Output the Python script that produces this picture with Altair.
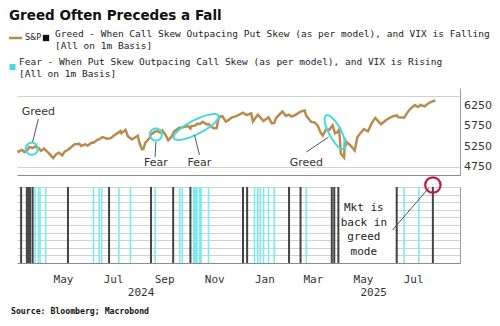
import altair as alt
import pandas as pd
import numpy as np

# ---------------- data ----------------
spx_dates = [
    "2024-03-07", "2024-03-08", "2024-03-12", "2024-03-15", "2024-03-19", "2024-03-21", "2024-03-25",
    "2024-03-28", "2024-04-02", "2024-04-04", "2024-04-08", "2024-04-10", "2024-04-12", "2024-04-15",
    "2024-04-19", "2024-04-23", "2024-04-26", "2024-04-30", "2024-05-03", "2024-05-08", "2024-05-10",
    "2024-05-15", "2024-05-21", "2024-05-23", "2024-05-28", "2024-05-31", "2024-06-05", "2024-06-07",
    "2024-06-12", "2024-06-14", "2024-06-18", "2024-06-21", "2024-06-24", "2024-06-28", "2024-07-03",
    "2024-07-05", "2024-07-10", "2024-07-11", "2024-07-16", "2024-07-19", "2024-07-24", "2024-07-26",
    "2024-07-31", "2024-08-02", "2024-08-05", "2024-08-07", "2024-08-09", "2024-08-14", "2024-08-16",
    "2024-08-21", "2024-08-23", "2024-08-28", "2024-08-30", "2024-09-03", "2024-09-06", "2024-09-10",
    "2024-09-13", "2024-09-19", "2024-09-24", "2024-09-30", "2024-10-03", "2024-10-04", "2024-10-10",
    "2024-10-11", "2024-10-15", "2024-10-18", "2024-10-23", "2024-10-25", "2024-10-31", "2024-11-04",
    "2024-11-06", "2024-11-08", "2024-11-11", "2024-11-15", "2024-11-19", "2024-11-22", "2024-11-27",
    "2024-12-02", "2024-12-06", "2024-12-10", "2024-12-13", "2024-12-16", "2024-12-18", "2024-12-20",
    "2024-12-24", "2024-12-31", "2025-01-06", "2025-01-10", "2025-01-13", "2025-01-15", "2025-01-17",
    "2025-01-23", "2025-01-27", "2025-01-31", "2025-02-03", "2025-02-07", "2025-02-14", "2025-02-19",
    "2025-02-21", "2025-02-27", "2025-03-03", "2025-03-07", "2025-03-10", "2025-03-13", "2025-03-17",
    "2025-03-21", "2025-03-25", "2025-03-28", "2025-03-31", "2025-04-02", "2025-04-03", "2025-04-04",
    "2025-04-08", "2025-04-09", "2025-04-10", "2025-04-11", "2025-04-16", "2025-04-21", "2025-04-24",
    "2025-05-02", "2025-05-07", "2025-05-12", "2025-05-16", "2025-05-21", "2025-05-23", "2025-05-28",
    "2025-06-03", "2025-06-06", "2025-06-11", "2025-06-13", "2025-06-20", "2025-06-24", "2025-06-27",
    "2025-07-03", "2025-07-07", "2025-07-10", "2025-07-15", "2025-07-18", "2025-07-23", "2025-07-28",
]
spx_values = [
    5157, 5124, 5175, 5117, 5178, 5241, 5218,
    5254, 5205, 5147, 5202, 5161, 5123, 5061,
    4967, 5070, 5100, 5036, 5128, 5187, 5223,
    5308, 5321, 5268, 5306, 5277, 5354, 5347,
    5421, 5431, 5487, 5464, 5448, 5460, 5537,
    5567, 5633, 5584, 5667, 5505, 5427, 5459,
    5522, 5346, 5186, 5199, 5344, 5455, 5554,
    5621, 5634, 5592, 5648, 5529, 5408, 5496,
    5626, 5713, 5732, 5762, 5700, 5751, 5780,
    5815, 5815, 5864, 5797, 5808, 5705, 5712,
    5929, 5995, 6001, 5870, 5917, 5969, 5998,
    6047, 6090, 6034, 6051, 6074, 5872, 5930,
    6040, 5882, 5975, 5827, 5836, 5950, 5997,
    6119, 6012, 6041, 5994, 6026, 6115, 6144,
    6013, 5861, 5850, 5770, 5615, 5522, 5675,
    5668, 5777, 5581, 5612, 5671, 5397, 5074,
    4982, 5457, 5268, 5363, 5276, 5158, 5485,
    5686, 5631, 5844, 5958, 5845, 5803, 5889,
    5970, 6000, 6022, 5977, 5968, 6092, 6173,
    6279, 6230, 6280, 6244, 6297, 6359, 6390,
]

greed_dates = [
    "2024-03-11", "2024-03-18", "2024-03-20", "2024-03-22", "2024-03-25", "2024-05-07",
    "2024-06-26", "2024-08-16", "2024-09-12", "2024-10-03", "2024-12-06", "2024-12-11",
    "2025-01-31", "2025-02-14", "2025-03-24", "2025-03-27", "2025-04-01", "2025-06-11",
    "2025-07-25",
]
fear_dates = [
    "2024-03-28", "2024-04-01", "2024-04-03", "2024-04-10", "2024-06-07", "2024-06-14",
    "2024-06-17", "2024-07-08", "2024-07-22", "2024-08-21", "2024-09-20", "2024-09-23",
    "2024-10-07", "2024-10-08", "2024-10-09", "2024-10-10", "2024-10-11", "2024-10-14",
    "2024-10-15", "2024-10-16", "2024-10-25", "2024-12-20", "2024-12-24", "2024-12-27",
    "2024-12-31", "2025-01-06", "2025-01-13", "2025-02-21", "2025-06-20", "2025-07-08",
]

y_grid_values = [4750, 5000, 5250, 5500, 5750, 6000, 6250, 6500]
y_label_values = [4750, 5250, 5750, 6250]
bot_grid_values = [1, 2, 3, 4, 5, 6, 7, 8, 9, 10]
month_tick_dates = ["2024-05-01", "2024-07-01", "2024-09-01", "2024-11-01",
                    "2025-01-01", "2025-03-01", "2025-05-01", "2025-07-01"]
year_labels = ["2024", "2025"]
year_label_dates = ["2024-08-04", "2025-05-14"]

title_text = "Greed Often Precedes a Fall"
legend_spx = "S&P"
legend_greed = ["Greed - When Call Skew Outpacing Put Skew (as per model), and VIX is Falling",
                "[All on 1m Basis]"]
legend_fear = ["Fear - When Put Skew Outpacing Call Skew (as per model), and VIX is Rising",
               "[All on 1m Basis]"]
source_text = "Source: Bloomberg; Macrobond"

# annotations (data coordinates)
ann_labels = ["Greed", "Fear", "Fear", "Greed"]
ann_label_dates = ["2024-04-01", "2024-08-22", "2024-10-14", "2025-02-21"]
ann_label_values = [6100, 4848, 4848, 4848]

ell_dates = ["2024-03-24", "2024-08-22", "2024-10-10", "2025-03-28"]
ell_values = [5200, 5550, 5737, 5610]

conn_dates = ["2024-04-01", "2024-08-22", "2024-10-08", "2025-03-20"]
conn_values = [5935, 5370, 5537, 5487]
conn_dates2 = ["2024-03-25", "2024-08-21", "2024-10-14", "2025-02-21"]
conn_values2 = [5364, 4995, 5045, 5118]

mkt_text = ["Mkt is", "back in", "greed", "mode"]
mkt_text_date = "2025-05-02"
mkt_circle_date = "2025-07-25"
mkt_conn_dates = ["2025-06-06", "2025-07-20"]
blank_dates = ["2025-04-03", "2025-06-09"]

# ---------------- styling ----------------
TAN = "#b98a4d"
CYAN = "#45d9e2"
CYAN_BAR = "#7fe9f0"
DARK = "#434343"
GRID = "#d0d0d0"
W, H_TOP, H_BOT = 443, 87, 76


def ts(s):
    return int(pd.Timestamp(s, tz="UTC").value // 10**6)


def ellipse_path(ratio, n=48):
    t = np.linspace(0, 2 * np.pi, n, endpoint=False)
    pts = [f"{np.cos(a):.4f},{ratio * np.sin(a):.4f}" for a in t]
    return "M" + " L".join(pts) + " Z"


xs = alt.Scale(type="utc", domain=[ts("2024-03-06"), ts("2025-08-27")])
ys_top = alt.Scale(domain=[4550, 6700], nice=False, zero=False)
ys_bot = alt.Scale(domain=[0, 10], nice=False, zero=False)

dummy = pd.DataFrame({"a": [0]})
base = alt.Chart(dummy)

# ---------------- top panel ----------------
spx_df = pd.DataFrame({"date": spx_dates, "value": spx_values})
line = alt.Chart(spx_df).mark_line(color=TAN, strokeWidth=2.5).encode(
    x=alt.X("date:T", scale=xs, title=None,
            axis=alt.Axis(labels=False, ticks=False, grid=False, domain=True,
                          domainColor="#8a8a8a", title=None)),
    y=alt.Y("value:Q", scale=ys_top, title=None,
            axis=alt.Axis(orient="right", values=y_grid_values, labels=False, ticks=False,
                          grid=True, gridColor=GRID, gridWidth=1, gridOpacity=1,
                          domain=True, domainColor="#9a9a9a", title=None)),
)

ylabels = alt.Chart(pd.DataFrame({"value": y_label_values})).mark_text(
    font="DejaVu Sans", fontSize=11, color="#333", align="left", baseline="middle").encode(
    x=alt.value(W + 4), y=alt.Y("value:Q", title=None), text=alt.Text("value:Q", format="d"))

ell_df = pd.DataFrame({
    "date": ell_dates, "value": ell_values,
    "shape": [ellipse_path(1.0), ellipse_path(1.0), ellipse_path(0.28), ellipse_path(0.32)],
    "size": [12 ** 2, 12 ** 2, 50 ** 2, 38 ** 2],
    "angle": [0, 0, 333, 62],
})
ells = alt.Chart(ell_df).mark_point(filled=False, color=CYAN, strokeWidth=2, opacity=1).encode(
    x=alt.X("date:T", title=None), y=alt.Y("value:Q", title=None),
    shape=alt.Shape("shape:N", scale=None),
    size=alt.Size("size:Q", scale=None),
    angle=alt.Angle("angle:Q", scale=None),
)

conn_df = pd.DataFrame({"date": conn_dates, "value": conn_values,
                        "date2": conn_dates2, "value2": conn_values2})
conns = alt.Chart(conn_df).mark_rule(color="#555", strokeWidth=1).encode(
    x=alt.X("date:T", title=None), y=alt.Y("value:Q", title=None),
    x2="date2:T", y2="value2:Q",
)

lab_df = pd.DataFrame({"date": ann_label_dates, "value": ann_label_values, "label": ann_labels})
labs = alt.Chart(lab_df).mark_text(font="DejaVu Sans", fontSize=11, color="#333",
                                   baseline="middle", align="center").encode(
    x=alt.X("date:T", title=None), y=alt.Y("value:Q", title=None), text="label:N")

title_mark = base.mark_text(font="DejaVu Sans", fontWeight="bold", fontSize=13.5, color="#111",
                            align="left", baseline="top").encode(
    x=alt.value(-8), y=alt.value(-79), text=alt.value(title_text))
spx_leg_line = base.mark_rule(color=TAN, strokeWidth=2.5).encode(
    x=alt.value(-8), x2=alt.value(5), y=alt.value(-50))
spx_leg_text = base.mark_text(font="DejaVu Sans", fontSize=8, color="#222",
                              align="left", baseline="middle").encode(
    x=alt.value(8), y=alt.value(-50), text=alt.value(legend_spx))
greed_sq = base.mark_square(color="#111", size=40, opacity=1).encode(
    x=alt.value(29), y=alt.value(-50))
greed_leg = base.mark_text(font="DejaVu Sans Mono", fontSize=9.5, color="#222", lineHeight=12,
                           align="left", baseline="top").encode(
    x=alt.value(38), y=alt.value(-59), text=alt.value(legend_greed))
fear_sq = base.mark_square(color=CYAN, size=36, opacity=1).encode(
    x=alt.value(-4.5), y=alt.value(-21))
fear_leg = base.mark_text(font="DejaVu Sans Mono", fontSize=9.5, color="#222", lineHeight=12,
                          align="left", baseline="top").encode(
    x=alt.value(2), y=alt.value(-31), text=alt.value(legend_fear))

top = alt.layer(line, ells, conns, labs, ylabels, title_mark,
                spx_leg_line, spx_leg_text, greed_sq, greed_leg, fear_sq, fear_leg
                ).properties(width=W, height=H_TOP)

# ---------------- bottom panel ----------------
blank_df = pd.DataFrame({"date": [blank_dates[0]], "date2": [blank_dates[1]], "y0": [0], "y1": [10]})
blank = alt.Chart(blank_df).mark_rect(color="white", opacity=1).encode(
    x=alt.X("date:T", scale=xs, title=None,
            axis=alt.Axis(values=[ts(d) for d in month_tick_dates],
                          labelExpr="utcFormat(datum.value, '%b')",
                          ticks=False, tickSize=0, grid=False, domainColor="#8a8a8a",
                          labelFont="DejaVu Sans Mono", labelFontSize=11, labelColor="#333",
                          labelPadding=10, labelAlign="center", zindex=1, title=None)),
    x2="date2:T",
    y=alt.Y("y0:Q", scale=ys_bot, title=None,
            axis=alt.Axis(orient="right", values=bot_grid_values, labels=False, ticks=False,
                          grid=True, gridColor=GRID, gridWidth=1, gridOpacity=1,
                          domain=True, domainColor="#9a9a9a", title=None)),
    y2="y1:Q",
)
fear_rules = alt.Chart(pd.DataFrame({"date": fear_dates})).mark_rule(
    color=CYAN_BAR, strokeWidth=1.6).encode(x=alt.X("date:T", title=None))
greed_rules = alt.Chart(pd.DataFrame({"date": greed_dates})).mark_rule(
    color=DARK, strokeWidth=2).encode(x=alt.X("date:T", title=None))

mkt_df = pd.DataFrame({"date": [mkt_circle_date]})
mkt_circle = alt.Chart(mkt_df).mark_point(shape="circle", filled=False, color="#c0163e",
                                          strokeWidth=2.2, size=235, opacity=1).encode(
    x=alt.X("date:T", title=None), y=alt.value(-2))
mkt_conn = alt.Chart(pd.DataFrame({"date": [mkt_conn_dates[0]], "date2": [mkt_conn_dates[1]]})).mark_rule(
    color="#555", strokeWidth=1).encode(
    x=alt.X("date:T", title=None), x2="date2:T", y=alt.value(43), y2=alt.value(1))
mkt_label = alt.Chart(pd.DataFrame({"date": [mkt_text_date]})).mark_text(
    font="DejaVu Sans Mono", fontSize=11, color="#222", lineHeight=14.7,
    align="center", baseline="top").encode(
    x=alt.X("date:T", title=None), y=alt.value(15), text=alt.value(mkt_text))
year_df = pd.DataFrame({"date": year_label_dates, "label": year_labels})
years = alt.Chart(year_df).mark_text(font="DejaVu Sans Mono", fontSize=11, color="#333",
                                     align="center", baseline="middle").encode(
    x=alt.X("date:T", title=None), y=alt.value(106), text="label:N")
source = base.mark_text(font="DejaVu Sans Mono", fontWeight="bold", fontSize=8.2, color="#111",
                        align="left", baseline="middle").encode(
    x=alt.value(-6), y=alt.value(125), text=alt.value(source_text))

bottom = alt.layer(blank, fear_rules, greed_rules, mkt_circle,
                   mkt_conn, mkt_label, years, source).properties(width=W, height=H_BOT)

chart = alt.vconcat(top, bottom, spacing=12, bounds="flush").properties(
    padding={"left": 7, "top": 9, "right": 4, "bottom": 4}
).configure_view(stroke=None)

chart.save("out.html", embed_options={"renderer": "svg", "actions": False})
